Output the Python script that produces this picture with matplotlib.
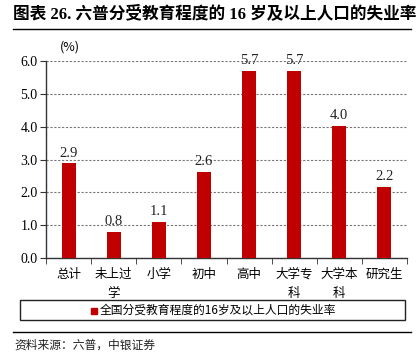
import matplotlib
matplotlib.use('Agg')
import matplotlib.pyplot as plt
import numpy as np

plt.rcParams['font.family'] = ['Liberation Serif', 'Noto Sans CJK SC']

categories = ['总计', '未上过\n学', '小学', '初中', '高中', '大学专\n科', '大学本\n科', '研究生']
values = [2.88, 0.80, 1.11, 2.61, 5.69, 5.71, 4.02, 2.17]
labels = ['2.9', '0.8', '1.1', '2.6', '5.7', '5.7', '4.0', '2.2']
yticks = [0.0, 1.0, 2.0, 3.0, 4.0, 5.0, 6.0]

W, H = 418, 364
fig = plt.figure(figsize=(W / 100, H / 100), dpi=100)
ax = fig.add_axes([46 / W, 1 - 258 / H, (407 - 46) / W, (258 - 61) / H])

x = np.arange(len(categories))
ax.bar(x, values, width=0.31, color='#C00000', zorder=3)
for xi, v, s in zip(x, values, labels):
    ax.text(xi, v + 0.12, s, ha='center', va='bottom', fontsize=10.5, color='#222222')

ax.set_xlim(-0.5, len(categories) - 0.5)
ax.set_ylim(0, 6.0)
ax.set_yticks(yticks)
ax.set_yticklabels(['%.1f' % t for t in yticks], fontsize=10)
ax.set_xticks(x)
ax.set_xticklabels(categories, fontsize=9, family=['Noto Sans CJK SC'], linespacing=1.6, va='top')
ax.set_xticks(np.arange(len(categories) + 1) - 0.5, minor=True)
ax.tick_params(axis='x', which='major', length=0, pad=7)
ax.tick_params(axis='x', which='minor', length=4, direction='out', color='#333333')
ax.tick_params(axis='y', length=4, direction='out', color='#333333', pad=2)
ax.yaxis.grid(True, linestyle=(0, (2, 1.5)), color='#777777', linewidth=0.8, zorder=0)
for sp in ['top', 'right']:
    ax.spines[sp].set_visible(False)
for sp in ['left', 'bottom']:
    ax.spines[sp].set_color('#333333')
    ax.spines[sp].set_linewidth(1.0)

fig.text(60 / W, 1 - 47 / H, '(%)', fontsize=9, family=['Noto Sans CJK SC'], ha='left', va='center')

# title and rules
fig.text(13 / W, 1 - 14 / H, '图表 26. 六普分受教育程度的 16 岁及以上人口的失业率',
         fontsize=12, fontweight='bold', ha='left', va='center')
fig.add_artist(plt.Line2D([13 / W, 411 / W], [1 - 29 / H, 1 - 29 / H], color='black', linewidth=1.0))
fig.add_artist(plt.Line2D([13 / W, 411 / W], [1 - 332 / H, 1 - 332 / H], color='black', linewidth=1.0))

# legend box
leg_box = plt.Rectangle((20 / W, 1 - 320 / H), (405 - 20) / W, 20 / H, fill=False,
                        edgecolor='#222222', linewidth=1.0, transform=fig.transFigure)
fig.add_artist(leg_box)
fig.add_artist(plt.Rectangle((91 / W, 1 - 314 / H), 6 / W, 6 / H, color='#C00000', transform=fig.transFigure))
fig.text(100 / W, 1 - 310.5 / H, '全国分受教育程度的16岁及以上人口的失业率', fontsize=8.5,
         family=['Noto Sans CJK SC'], ha='left', va='center')

fig.text(14 / W, 1 - 345 / H, '资料来源：六普，中银证券', fontsize=8.5, style='italic',
         family=['Noto Sans CJK SC'], ha='left', va='center', color='#222222')

fig.savefig('out.png', dpi=100)
